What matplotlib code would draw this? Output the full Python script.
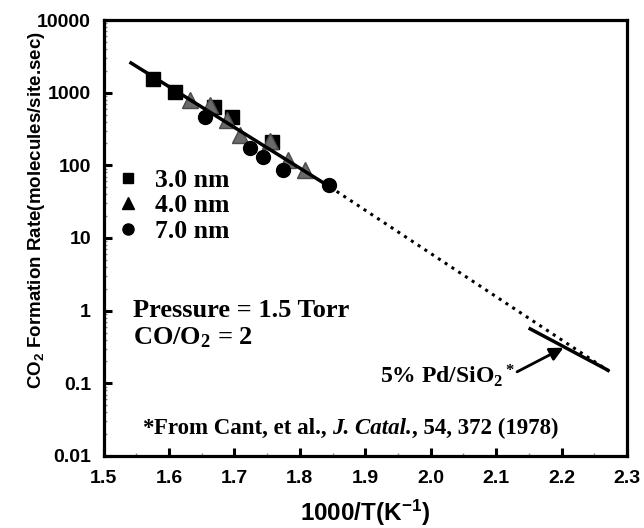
import matplotlib
matplotlib.use("Agg")
import matplotlib.pyplot as plt
from matplotlib.lines import Line2D
from matplotlib.ticker import FixedLocator, FixedFormatter, LogLocator, NullFormatter, MultipleLocator

plt.rcParams['mathtext.default'] = 'regular'

# ---- data ----
x_3nm = [1.576, 1.609, 1.669, 1.696, 1.758]
y_3nm = [1542, 1023, 636, 463, 210]
x_4nm = [1.632, 1.663, 1.689, 1.709, 1.755, 1.782, 1.808]
y_4nm = [794, 677, 421, 263, 217, 119, 86.5]
x_7nm = [1.655, 1.724, 1.744, 1.775, 1.845]
y_7nm = [463, 173, 131, 86.5, 53.7]
fit_x = [1.542, 1.846]
fit_y = [2563, 50.5]
extrap_x = [1.846, 2.274]
extrap_y = [50.5, 0.144]
cant_x = [2.152, 2.270]
cant_y = [0.562, 0.153]
arrow_tail = (2.132, 0.144)
arrow_tip = (2.203, 0.309)
yticks = [0.01, 0.1, 1, 10, 100, 1000, 10000]
ytick_labels = ['0.01', '0.1', '1', '10', '100', '1000', '10000']
xticks = [1.5, 1.6, 1.7, 1.8, 1.9, 2.0, 2.1, 2.2, 2.3]
xtick_labels = ['1.5', '1.6', '1.7', '1.8', '1.9', '2.0', '2.1', '2.2', '2.3']
series_labels = ['3.0 nm', '4.0 nm', '7.0 nm']

SERIF = 'Liberation Serif'
SANS = 'Liberation Sans'

fig = plt.figure(figsize=(6.44, 5.28), dpi=100)
ax = fig.add_axes([103.5/644, 1-456/528, (627-103.5)/644, (456-20)/528])
ax.set_yscale('log')
ax.set_xlim(1.5, 2.3)
ax.set_ylim(0.01, 10000)

ax.plot(x_3nm, y_3nm, 's', color='black', ms=10, zorder=3)
ax.plot(x_4nm, y_4nm, '^', color='#6a6a6a', mec='#4a4a4a', ms=11, zorder=3)
ax.plot(x_7nm, y_7nm, 'o', color='black', ms=10, zorder=3)
ax.plot(fit_x, fit_y, '-', color='black', lw=2.5, zorder=4)
ax.plot(extrap_x, extrap_y, ':', color='black', lw=2.2, zorder=4)
ax.plot(cant_x, cant_y, '-', color='black', lw=2.5, zorder=4)

ax.annotate('', xy=arrow_tip, xytext=arrow_tail,
            arrowprops=dict(arrowstyle='-|>,head_length=0.8,head_width=0.4',
                            color='black', lw=2, shrinkA=0, shrinkB=0))

handles = [Line2D([], [], ls='', marker='s', color='black', ms=7),
           Line2D([], [], ls='', marker='^', color='black', ms=8),
           Line2D([], [], ls='', marker='o', color='black', ms=8)]
leg = ax.legend(handles, series_labels, loc='upper left',
                bbox_to_anchor=(0.012, 0.671), frameon=False,
                prop={'family': SERIF, 'weight': 'bold', 'size': 18.5},
                handlelength=1.0, handletextpad=0.55, labelspacing=0.1,
                borderaxespad=0.0, borderpad=0.2)

tkw = dict(family=SERIF, weight='bold', fontsize=19)
ax.text(1.545, 0.82, 'Pressure = 1.5 Torr', va='baseline', ha='left', **tkw)
ax.text(1.545, 0.339, 'CO/O$_2$ = 2', va='baseline', ha='left', **tkw)
ax.text(1.923, 0.102, '5% Pd/SiO$_2$$^*$', va='baseline', ha='left',
        family=SERIF, weight='bold', fontsize=17)

fkw = dict(family=SERIF, weight='bold', fontsize=16.5)
t0 = ax.text(1.559, 0.0198, '*', va='baseline', ha='left', **fkw)
t1 = ax.annotate('From Cant, et al., ', xy=(1, 0), xycoords=t0, va='bottom', ha='left', **fkw)
t2 = ax.annotate('J. Catal.', xy=(1, 0), xycoords=t1, va='bottom', ha='left',
                 style='italic', **fkw)
ax.annotate(', 54, 372 (1978)', xy=(1, 0), xycoords=t2, va='bottom', ha='left', **fkw)

ax.yaxis.set_major_locator(FixedLocator(yticks))
ax.yaxis.set_major_formatter(FixedFormatter(ytick_labels))
ax.yaxis.set_minor_locator(LogLocator(base=10, subs=range(2, 10), numticks=20))
ax.yaxis.set_minor_formatter(NullFormatter())
ax.xaxis.set_major_locator(FixedLocator(xticks))
ax.xaxis.set_major_formatter(FixedFormatter(xtick_labels))
ax.xaxis.set_minor_locator(MultipleLocator(0.05))

ax.tick_params(which='major', direction='in', length=6, width=2.2, top=False, right=False)
ax.tick_params(which='minor', direction='in', length=2, width=1, color='#888888', top=False, right=False)
ax.tick_params(axis='x', which='major', pad=10)
ax.tick_params(axis='y', which='major', pad=9)
for lab in ax.get_xticklabels() + ax.get_yticklabels():
    lab.set_family(SANS)
    lab.set_weight('bold')
    lab.set_fontsize(14)
for s in ax.spines.values():
    s.set_linewidth(2.3)

ax.set_xlabel('1000/T(K$^{-1}$)', family=SANS, weight='bold', fontsize=17.5)
ax.xaxis.set_label_coords(0.5, -0.096)
ax.set_ylabel('CO$_2$ Formation Rate(molecules/site.sec)', family=SANS, weight='bold',
              fontsize=13.5)
ax.yaxis.set_label_coords(-0.108, 0.564)

fig.savefig('out.png', dpi=100)
